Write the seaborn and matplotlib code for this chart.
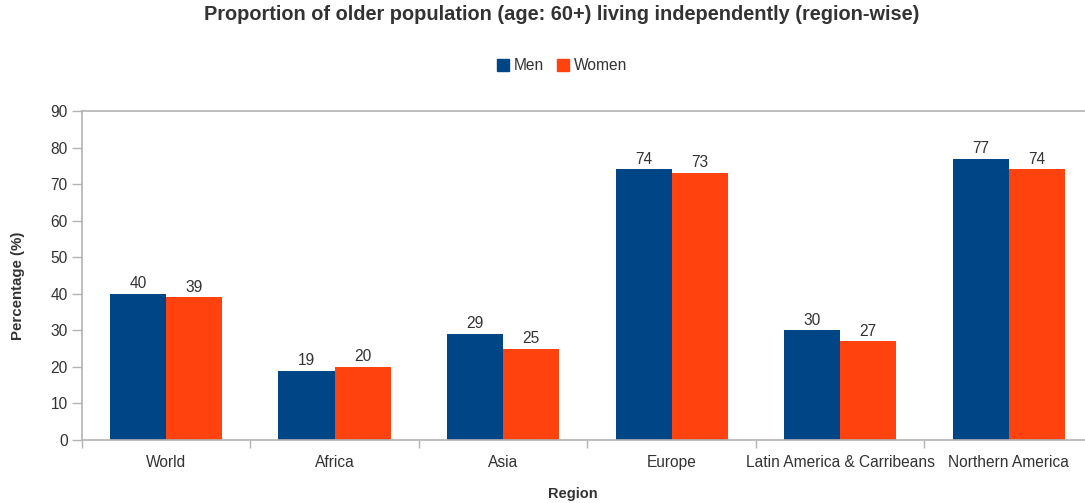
import matplotlib
matplotlib.use("Agg")
import matplotlib.pyplot as plt
from matplotlib.ticker import FixedLocator
from matplotlib.patches import Patch
import seaborn as sns
import pandas as pd

regions = ["World", "Africa", "Asia", "Europe", "Latin America & Carribeans", "Northern America"]
men = [40, 19, 29, 74, 30, 77]
women = [39, 20, 25, 73, 27, 74]
series = ["Men", "Women"]
y_ticks = [0, 10, 20, 30, 40, 50, 60, 70, 80, 90]

df = pd.DataFrame({
    "Region": regions * 2,
    "Value": men + women,
    "Sex": ["Men"] * len(regions) + ["Women"] * len(regions),
})

sns.set_theme(style="white")
plt.rcParams["font.family"] = ["Liberation Sans", "DejaVu Sans"]

text_col = "#333333"
axis_col = "#b3b3b3"
palette = {"Men": "#004586", "Women": "#ff420e"}

W, H = 1085, 503
fig = plt.figure(figsize=(W / 100, H / 100), dpi=100)
ax = fig.add_axes([81.7 / W, (H - 440) / H, (1093 - 81.7) / W, (440 - 111) / H])

sns.barplot(data=df, x="Region", y="Value", hue="Sex", hue_order=series,
            palette=palette, width=0.665, saturation=1, linewidth=0,
            ax=ax, legend=False)

ax.set_ylim(0, 90)
ax.set_xlim(-0.5, len(regions) - 0.5)
ax.set_yticks(y_ticks)
ax.set_yticklabels([str(t) for t in y_ticks])

for cont in ax.containers:
    ax.bar_label(cont, labels=[f"{v:.0f}" for v in cont.datavalues], padding=2,
                 fontsize=11.2, color=text_col)

for side in ["left", "bottom", "top"]:
    ax.spines[side].set_visible(True)
    ax.spines[side].set_color(axis_col)
    ax.spines[side].set_linewidth(1.2)
ax.spines["right"].set_visible(False)

ax.tick_params(axis="y", which="major", direction="out", length=7, width=1,
               color=axis_col, labelsize=11.2, labelcolor=text_col, pad=3, left=True)
ax.tick_params(axis="x", which="major", length=0, labelsize=11.2, labelcolor=text_col, pad=11)
ax.xaxis.set_minor_locator(FixedLocator([i - 0.5 for i in range(len(regions) + 1)]))
ax.tick_params(axis="x", which="minor", direction="out", length=6, width=1,
               color=axis_col, bottom=True)

ax.set_xlabel("Region", fontsize=10.5, fontweight="bold", color=text_col)
ax.xaxis.set_label_coords((573 - 81.7) / (1093 - 81.7), -(494 - 440) / (440 - 111),
                          transform=ax.transAxes)
ax.xaxis.label.set_va("center")
ax.set_ylabel("Percentage (%)", fontsize=10.8, fontweight="bold", color=text_col)
ax.yaxis.set_label_coords(-(81.7 - 18) / (1093 - 81.7), (440 - 286) / (440 - 111),
                          transform=ax.transAxes)
ax.yaxis.label.set_va("center")

fig.text(562 / W, 1 - 15 / H,
         "Proportion of older population (age: 60+) living independently (region-wise)",
         ha="center", va="center", fontsize=14.4, fontweight="bold", color=text_col)

handles = [Patch(facecolor=palette[s], edgecolor=palette[s]) for s in series]
fig.legend(handles, series, loc="center", bbox_to_anchor=(562 / W, 1 - 66 / H), ncol=2,
           frameon=False, fontsize=11.2, handlelength=0.8, handleheight=0.8,
           handletextpad=0.3, columnspacing=0.8, labelcolor=text_col)

fig.savefig("out.png", dpi=100)
